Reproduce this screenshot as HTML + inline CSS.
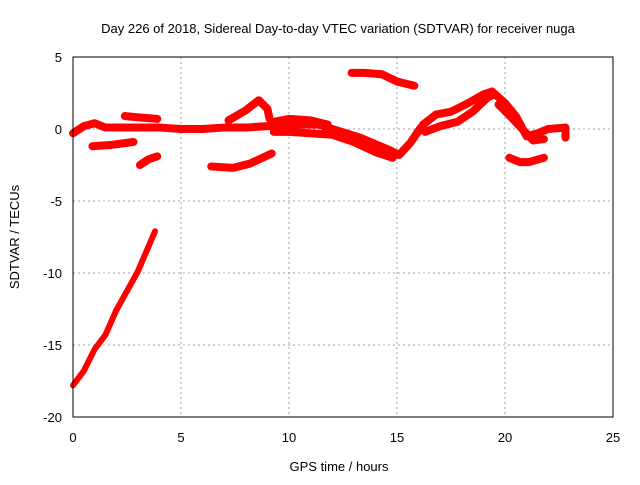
<!DOCTYPE html>
<html><head><meta charset="utf-8"><style>
body{margin:0;background:#fff;}
svg text{font-family:"Liberation Sans",sans-serif;font-size:13px;fill:#000;}
</style></head><body>
<svg id="chart" width="640" height="480" xmlns="http://www.w3.org/2000/svg">
<text x="338" y="33" text-anchor="middle">Day 226 of 2018, Sidereal Day-to-day VTEC variation (SDTVAR) for receiver nuga</text>
<text x="339" y="471" text-anchor="middle">GPS time / hours</text>
<text transform="translate(19,237) rotate(-90)" text-anchor="middle">SDTVAR / TECUs</text>
<g id="grid"></g><g id="series"></g>
<rect x="73" y="57" width="540" height="360" fill="none" stroke="#000" stroke-width="1"/>
<g id="ticks"></g>
</svg>
<script>
const xTicks=[0,5,10,15,20,25];
const yTicks=[5,0,-5,-10,-15,-20];
const trackMain=[[0,-0.3],[0.5,0.2],[1,0.4],[1.5,0.1],[2,0.1],[3,0.1],[4,0.1],[5,0],[6,0],[7,0.1],[8,0.1],[9,0.2],[10,0.3],[11,0.3],[11.4,0.3],[12,0],[13.3,-0.6],[14.7,-1.5],[15.1,-1.8],[15.6,-1],[16.1,0.1]];
const trackThickUp=[[9.3,0.5],[10,0.7],[11,0.6],[11.8,0.3]];
const trackThickLow=[[9.3,-0.2],[10,-0.2],[11,-0.3],[12,-0.4],[13,-0.9],[14,-1.6],[14.8,-2]];
const trackRiseUpper=[[16.2,0.3],[16.8,1.0],[17.5,1.2],[18.3,1.8],[19.0,2.4],[19.4,2.6]];
const trackRiseLower=[[16.3,-0.2],[17,0.2],[17.8,0.5],[18.5,1.2],[19.2,2.2],[19.5,2.4]];
const trackFall=[[19.4,2.6],[20,1.8],[20.5,0.9],[21,-0.5],[21.5,-0.3],[22,0],[22.8,0.1],[22.8,-0.6]];
const trackFall2=[[19.7,1.7],[20.3,0.8],[20.8,0],[21.3,-0.8],[21.8,-0.7]];
const trackLow=[[20.2,-2],[20.7,-2.3],[21.1,-2.3],[21.8,-2]];
const trackTop=[[12.9,3.9],[13.5,3.9],[14.3,3.8],[15,3.3],[15.8,3.0]];
const trackA=[[2.4,0.9],[3.1,0.8],[3.9,0.7]];
const trackB=[[0.9,-1.2],[1.8,-1.1],[2.8,-0.9]];
const trackC=[[3.1,-2.5],[3.5,-2.1],[3.9,-1.9]];
const trackD=[[6.4,-2.6],[7.4,-2.7],[8.2,-2.4],[9.2,-1.7]];
const trackBump=[[7.2,0.6],[8.0,1.3],[8.6,2.0],[9.0,1.4],[9.1,0.7]];
const trackDiag=[[0,-17.8],[0.5,-16.8],[1,-15.3],[1.5,-14.3],[2,-12.6],[3,-9.9],[3.8,-7.1]];
const tracks=[trackMain,trackThickUp,trackThickLow,trackRiseUpper,trackRiseLower,trackFall,trackFall2,trackLow,trackTop,trackA,trackB,trackC,trackD,trackBump];
const NS="http://www.w3.org/2000/svg";
const X=h=>73+h*21.6, Y=v=>129-v*14.4;
const grid=document.getElementById('grid'),ticks=document.getElementById('ticks'),ser=document.getElementById('series');
function mk(tag,attrs,parent){const e=document.createElementNS(NS,tag);for(const k in attrs)e.setAttribute(k,attrs[k]);parent.appendChild(e);return e;}
xTicks.forEach(t=>{
 if(t>0&&t<25){const g=mk('line',{x1:X(t),x2:X(t),y1:57,y2:417,stroke:'#a0a0a0','stroke-dasharray':'2,3'},grid);
 
 }
 const l=mk('text',{x:X(t),y:442,'text-anchor':'middle'},ticks);l.textContent=t;
 
 
});
yTicks.forEach(t=>{
 if(t<5&&t>-20){const g=mk('line',{x1:73,x2:613,y1:Y(t),y2:Y(t),stroke:'#a0a0a0','stroke-dasharray':'2,3'},grid);
 
 }
 const l=mk('text',{x:62,y:Y(t)+5,'text-anchor':'end'},ticks);l.textContent=t;
 
 
});
function drawTrack(tr,w){
 const p=mk('polyline',{points:tr.map(d=>X(d[0])+','+Y(d[1])).join(' '),fill:'none',stroke:'#ff0000','stroke-width':w,'stroke-linejoin':'round','stroke-linecap':'round'},ser);
 
 
}
tracks.forEach(tr=>drawTrack(tr,8));
drawTrack(trackDiag,6);
</script>
</body></html>
